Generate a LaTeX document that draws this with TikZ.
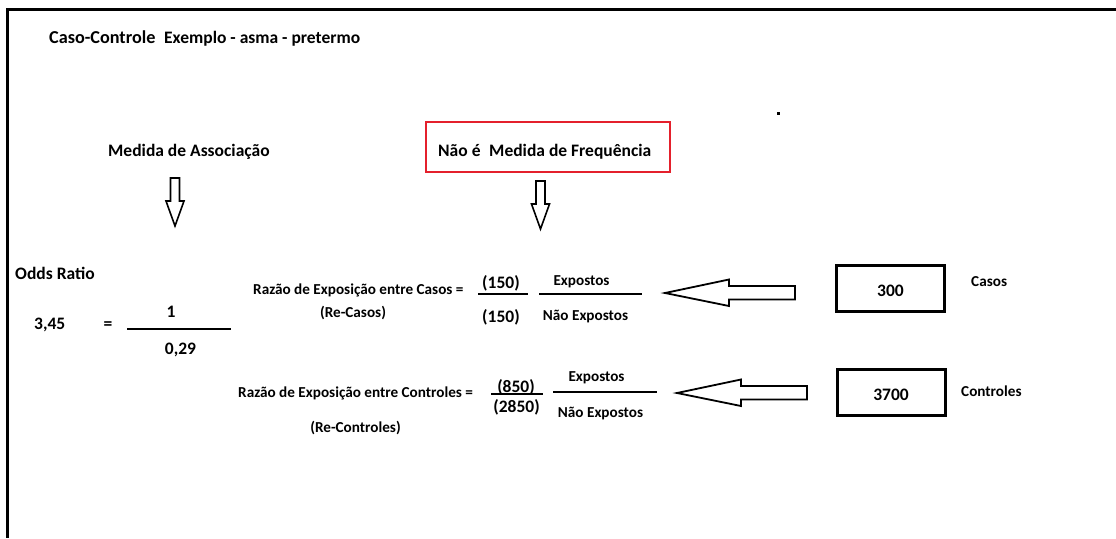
\documentclass[tikz,border=0pt]{standalone}
\usepackage{fontspec}
\setmainfont{Carlito}
\usetikzlibrary{positioning}

\definecolor{vermelho}{RGB}{228,32,44}

\tikzset{
  grande/.style={font=\fontsize{17.5}{20}\selectfont\bfseries},
  pequeno/.style={font=\fontsize{15.2}{17}\selectfont\bfseries},
  caixa/.style={draw=black,line width=3pt,minimum width=108pt,minimum height=46pt,text height=17pt,text depth=0pt,grande},
  barra/.style={line width=2.5pt},
  setabaixo/.pic={
    \draw[line width=1.6pt] (-4.5,0) -- (4.5,0) -- (4.5,23) -- (9,23) -- (0,48) -- (-9,23) -- (-4.5,23) -- cycle;
  },
  setaesquerda/.pic={
    \draw[line width=1.8pt] (0,0) -- (64,-13.5) -- (64,-7) -- (130,-7) -- (130,6.5) -- (64,6.5) -- (64,13) -- cycle;
  }
}

\begin{document}
\begin{tikzpicture}[x=1pt,y=-1pt,inner sep=0pt]
                \useasboundingbox (0,0) rectangle (1116,538);
                % moldura
                \draw[line width=3pt] (1116,9.5) -- (7.5,9.5) -- (7.5,538);
                \fill (776.5,111.5) rectangle (779.5,114.5);
                % titulo
                \node[grande,font=\fontsize{18.2}{20}\selectfont\bfseries,anchor=base west] (titulo) at (49,43.6) {Caso-Controle};
                \node[grande,anchor=base west] (exemplo) at (164,43.6) {Exemplo - asma - pretermo};
                % medidas
                \node[grande,anchor=base west] (assoc) at (108,156.6) {Medida de Associação};
                \node[draw=vermelho,line width=2.5pt,minimum width=244pt,minimum height=50pt] (freqbox) at (548,147) {};
                \node[grande,anchor=base west] (naoe) at (438,156.6) {Não é};
                \node[grande,anchor=base west] (freq) at (489,156.6) {Medida de Frequência};
                \pic at (175,178) {setabaixo};
                \pic at (540.5,181) {setabaixo};
                % odds ratio
                \node[grande,anchor=base west] (odds) at (15,279.6) {Odds Ratio};
                \node[grande,anchor=base west] (or) at (34,329.6) {3,45};
                \node[grande,anchor=base] (igual) at (108,329.6) {=};
                \node[grande,anchor=base] (um) at (171,317.6) {1};
                \node[grande,anchor=base] (or2) at (180.5,354.6) {0,29};
                \draw[barra] (127,329) -- (231,329);
                % casos
                \node[pequeno,anchor=base west] (recasos) at (253,294.7) {Razão de Exposição entre Casos =};
                \node[pequeno,anchor=base] (recasos2) at (353,317.7) {(Re-Casos)};
                \node[grande,anchor=base] (ce) at (501,288.6) {(150)};
                \node[grande,anchor=base] (cne) at (501,322.6) {(150)};
                \draw[barra] (478,294) -- (528,294);
                \node[pequeno,anchor=base] (exp1) at (581.5,285.7) {Expostos};
                \node[pequeno,anchor=base] (nexp1) at (585.5,320.7) {Não Expostos};
                \draw[barra] (539,294) -- (642,294);
                \pic at (665,293) {setaesquerda};
                \node[caixa] (casos) at (890.5,288) {300};
                \node[pequeno,anchor=base west] (lcasos) at (971,286.7) {Casos};
                % controles
                \node[pequeno,anchor=base west] (recontr) at (238,397.7) {Razão de Exposição entre Controles =};
                \node[pequeno,anchor=base] (recontr2) at (355.5,432.7) {(Re-Controles)};
                \node[grande,anchor=base] (ke) at (516,392.6) {(850)};
                \node[grande,anchor=base] (kne) at (516.5,412.6) {(2850)};
                \draw[barra] (491,394) -- (543,394);
                \node[pequeno,anchor=base] (exp2) at (596.5,381.7) {Expostos};
                \node[pequeno,anchor=base] (nexp2) at (600.5,417.7) {Não Expostos};
                \draw[barra] (553,392) -- (657,392);
                \pic at (677,393) {setaesquerda};
                \node[caixa] (controles) at (891,392) {3700};
                \node[pequeno,anchor=base west] (lcontr) at (961,396.7) {Controles};
            \end{tikzpicture}
\end{document}
